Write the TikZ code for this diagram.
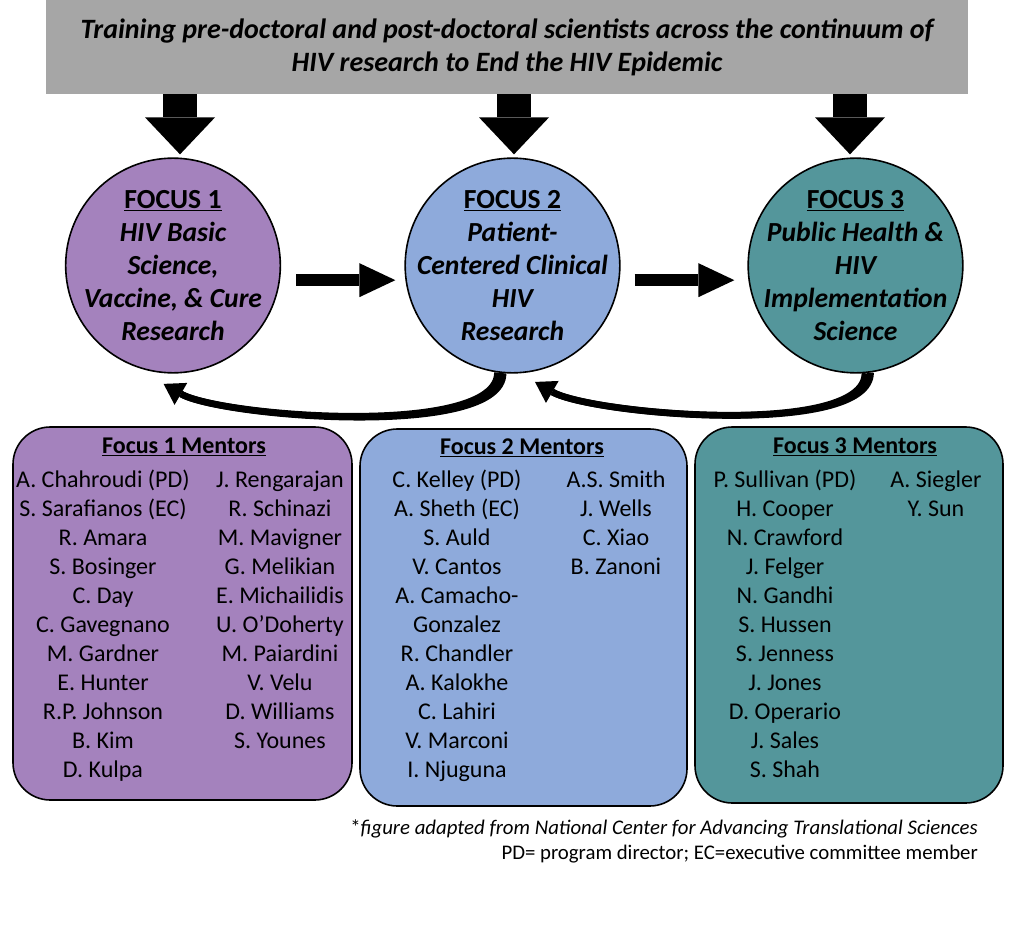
\documentclass[tikz,border=0pt]{standalone}
\usepackage{fontspec}
\setmainfont{Carlito}
\usepackage{xcolor}
\usepackage{tikz}
\usetikzlibrary{arrows.meta, calc, positioning}
\definecolor{bannergray}{RGB}{166,166,166}
\definecolor{focusA}{RGB}{164,130,189}
\definecolor{focusB}{RGB}{142,170,219}
\definecolor{focusC}{RGB}{84,150,155}
\tikzstyle{banner} = [rectangle, fill=bannergray, minimum width=691.5pt, minimum height=70.5pt, inner sep=0pt, align=center, font=\fontsize{21}{24.75}\selectfont\bfseries\itshape]
\tikzstyle{focus} = [circle, draw=black, line width=1.2pt, minimum size=161pt, inner sep=0pt]
\tikzstyle{focustext} = [align=center, inner sep=0pt, font=\fontsize{20.7}{24.75}\selectfont\bfseries\itshape]
\tikzstyle{downarrow} = [line width=25.5pt, -{Triangle[length=27.75pt, width=52.5pt, line width=0pt]}]
\tikzstyle{sidearrow} = [line width=9pt, -{Triangle[length=27pt, width=25.5pt, line width=0pt]}]
\tikzstyle{backarrow} = [line width=5pt, -{Triangle[length=15pt, width=19pt, line width=0pt]}]
\tikzstyle{backtail} = [line width=5pt, shorten >=15pt]
\tikzstyle{mentorbox} = [rectangle, rounded corners=28pt, draw=black, line width=1.2pt, inner sep=0pt]
\tikzstyle{mentorhead} = [anchor=base, inner sep=0pt, font=\fontsize{18}{21.75}\selectfont\bfseries]
\tikzstyle{namelist} = [anchor=north, inner sep=0pt, align=center, font=\fontsize{18}{21.75}\selectfont]
\tikzstyle{notetext} = [anchor=base east, inner sep=0pt, font=\fontsize{15.6}{18.75}\selectfont]

\begin{document}
\begin{tikzpicture}[x=0.75pt, y=-0.75pt]
\useasboundingbox (0,0) rectangle (1024,941);
\node (banner) [banner] at (507,47) {Training pre-doctoral and post-doctoral scientists across the continuum of\\HIV research to End the HIV Epidemic};
\node (f1) [focus, fill=focusA] at (173,265.5) {};
\node (f2) [focus, fill=focusB] at (512.5,265.5) {};
\node (f3) [focus, fill=focusC] at (855.5,265.5) {};
\node (t1) [focustext] at (f1) {\underline{\upshape FOCUS 1}\\HIV Basic\\Science,\\Vaccine, \& Cure\\Research};
\node (t2) [focustext] at (f2) {\underline{\upshape FOCUS 2}\\Patient-\\Centered Clinical\\HIV\\Research};
\node (t3) [focustext] at (f3) {\underline{\upshape FOCUS 3}\\Public Health \&\\HIV\\Implementation\\Science};
\draw [downarrow, shorten >=2.25pt] ($(f1.north |- banner.south)+(7,0)$) -- ($(f1.north)+(7,0)$);
\draw [downarrow, shorten >=2.25pt] ($(f2.north |- banner.south)+(1.5,0)$) -- ($(f2.north)+(1.5,0)$);
\draw [downarrow, shorten >=2.25pt] ($(f3.north |- banner.south)+(-5.5,0)$) -- ($(f3.north)+(-5.5,0)$);
\draw [sidearrow, shorten <=11.25pt, shorten >=6.75pt] ([yshift=-11pt]f1.east) -- ([yshift=-11pt]f2.west);
\draw [sidearrow, shorten <=10.5pt, shorten >=9.75pt] ([yshift=-11pt]f2.east) -- ([yshift=-11pt]f3.west);
\draw [backarrow] (f2.-98.5) to [out=-90, in=-30, looseness=0.5] ([yshift=-8pt]f1.-95);
\draw [backtail] (f2.-95.5) to [out=-90, in=-30, looseness=0.5] ([yshift=-8pt]f1.-95);
\draw [backarrow] (f3.-85.5) to [out=-90, in=-30, looseness=0.5] ([yshift=-8pt]f2.-78);
\draw [backtail] (f3.-82.5) to [out=-90, in=-30, looseness=0.5] ([yshift=-8pt]f2.-78);
\node (m1) [mentorbox, fill=focusA, minimum width=254.25pt, minimum height=279.75pt] at (182.5,613.5) {};
\node (m2) [mentorbox, fill=focusB, minimum width=245.25pt, minimum height=282.75pt] at (523.5,617.5) {};
\node (m3) [mentorbox, fill=focusC, minimum width=231pt, minimum height=282pt] at (849,615) {};
\node (h1) [mentorhead] at (184,453.6) {\underline{Focus 1 Mentors}};
\node (h2) [mentorhead] at (522,454.6) {\underline{Focus 2 Mentors}};
\node (h3) [mentorhead] at (855,453.6) {\underline{Focus 3 Mentors}};
\node (m1a) [namelist] at (103,467.3) {\strut A. Chahroudi (PD)\\S. Sarafianos (EC)\\R. Amara\\S. Bosinger\\C. Day\\C. Gavegnano\\M. Gardner\\E. Hunter\\R.P. Johnson\\B. Kim\\D. Kulpa};
\node (m1b) [namelist] at (280,467.3) {\strut J. Rengarajan\\R. Schinazi\\M. Mavigner\\G. Melikian\\E. Michailidis\\U. O’Doherty\\M. Paiardini\\V. Velu\\D. Williams\\S. Younes};
\node (m2a) [namelist] at (457,467.3) {\strut C. Kelley (PD)\\A. Sheth (EC)\\S. Auld\\V. Cantos\\A. Camacho-\\Gonzalez\\R. Chandler\\A. Kalokhe\\C. Lahiri\\V. Marconi\\I. Njuguna};
\node (m2b) [namelist] at (616,467.3) {\strut A.S. Smith\\J. Wells\\C. Xiao\\B. Zanoni};
\node (m3a) [namelist] at (785,467.3) {\strut P. Sullivan (PD)\\H. Cooper\\N. Crawford\\J. Felger\\N. Gandhi\\S. Hussen\\S. Jenness\\J. Jones\\D. Operario\\J. Sales\\S. Shah};
\node (m3b) [namelist] at (936,467.3) {\strut A. Siegler\\Y. Sun};
\node (n1) [notetext] at (978,834) {*\textit{figure adapted from National Center for Advancing Translational Sciences}};
\node (n2) [notetext] at (978,859) {PD= program director; EC=executive committee member};
\end{tikzpicture}
\end{document}
